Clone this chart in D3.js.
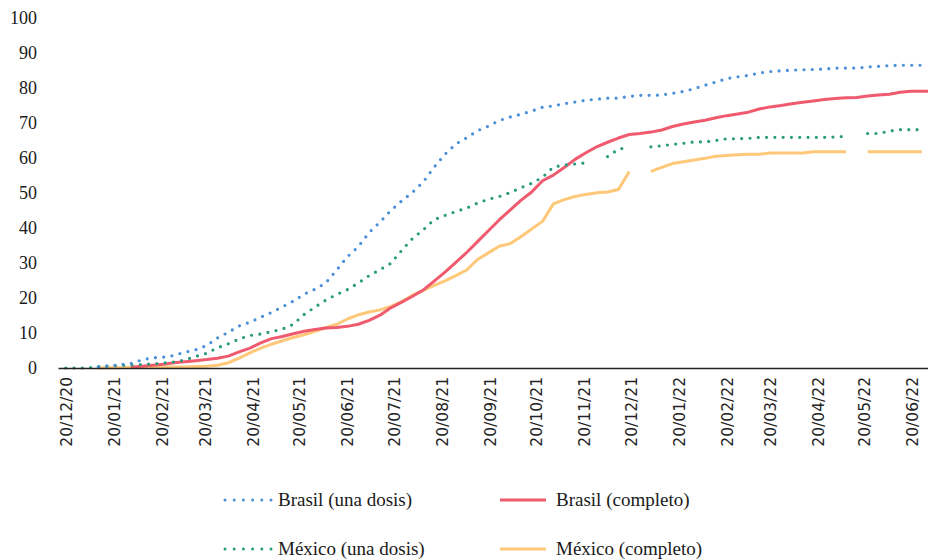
<!DOCTYPE html>
<html>
<head>
<meta charset="utf-8">
<script src="https://cdn.jsdelivr.net/npm/d3@7"></script>
<style>
  html, body { margin: 0; padding: 0; background: #fff; }
  svg { display: block; }
</style>
</head>
<body>
<svg id="chart" width="928" height="559"></svg>
<script>
// ---- DATA ----
const dates = [
  "2020-12-20","2020-12-27","2021-01-03","2021-01-10","2021-01-17","2021-01-24","2021-01-31","2021-02-07",
  "2021-02-14","2021-02-21","2021-02-28","2021-03-07","2021-03-14","2021-03-21","2021-03-28","2021-04-04",
  "2021-04-11","2021-04-18","2021-04-25","2021-05-02","2021-05-09","2021-05-16","2021-05-23","2021-05-30",
  "2021-06-06","2021-06-13","2021-06-20","2021-06-27","2021-07-04","2021-07-11","2021-07-18","2021-07-25",
  "2021-08-01","2021-08-08","2021-08-15","2021-08-22","2021-08-29","2021-09-05","2021-09-12","2021-09-19",
  "2021-09-26","2021-10-03","2021-10-10","2021-10-17","2021-10-24","2021-10-31","2021-11-07","2021-11-14",
  "2021-11-21","2021-11-28","2021-12-05","2021-12-12","2021-12-19","2021-12-26","2022-01-02","2022-01-09",
  "2022-01-16","2022-01-23","2022-01-30","2022-02-06","2022-02-13","2022-02-20","2022-02-27","2022-03-06",
  "2022-03-13","2022-03-20","2022-03-27","2022-04-03","2022-04-10","2022-04-17","2022-04-24","2022-05-01",
  "2022-05-08","2022-05-15","2022-05-22","2022-05-29","2022-06-05","2022-06-12","2022-06-19","2022-06-26",
  "2022-06-30"
];

const brasilUnaDosis = [
  null,null,null,0.3,0.6,0.9,1.3,2.3,2.9,3.1,3.6,4.5,5.2,6.4,8.6,10.2,
  12,13.1,14.5,15.9,17.5,19.1,21.1,22.5,24.3,28,31.8,34.7,38.7,41.7,45,47.7,
  50.2,53.2,57.4,61.1,64,65.8,67.8,69.1,70.7,71.7,72.5,73.4,74.5,74.9,75.5,76,
  76.5,76.8,77.1,77.1,77.6,77.9,77.9,78,78.5,79,79.8,80.8,81.7,82.7,83.2,83.6,
  84.3,84.7,84.9,85.1,85.2,85.3,85.4,85.7,85.7,85.7,86,86.2,86.4,86.5,86.5,86.5,
  86.5
];

const brasilCompleto = [
  null,null,null,null,null,null,0.2,0.5,0.8,1.1,1.5,1.8,2.1,2.4,2.8,3.4,
  4.6,5.7,7.2,8.4,9,9.8,10.5,11,11.4,11.6,11.9,12.5,13.6,15.1,17.2,18.8,
  20.5,22.3,24.8,27.4,30.2,33,36.1,39.2,42.3,45.1,47.9,50.3,53.5,55.1,57.3,59.6,
  61.5,63.2,64.5,65.7,66.7,67,67.4,68,69,69.7,70.3,70.8,71.5,72.1,72.6,73.1,
  74,74.6,75,75.5,75.9,76.3,76.7,77,77.2,77.3,77.7,78,78.2,78.8,79.1,79.1,
  79.1
];

const mexicoUnaDosis = [
  0,0,0,0.4,0.6,0.7,0.9,1,1.2,1.4,1.7,2.3,3.3,4.2,5.8,6.9,
  8.3,9.3,9.7,10.4,11.1,12.5,15.3,17.4,19.4,21,22.4,24.3,26.4,28.1,29.9,33.6,
  37,39.5,42.4,43.6,44.7,45.7,47.1,48.2,49,50.1,51.5,52.8,54.5,57.4,58,58.3,
  58.6,null,60.4,62.5,63.1,null,63.2,63.5,63.9,64.2,64.6,64.6,65,65.5,65.5,65.6,
  65.9,65.9,65.9,65.9,65.9,65.9,65.9,66,66.2,null,67,67,67.7,68.1,68.1,68.1,
  null
];

const mexicoCompleto = [
  null,null,null,0,0.1,0.1,0.2,0.2,0.3,0.3,0.3,0.3,0.4,0.5,0.8,1.5,
  2.8,4.3,5.7,6.8,7.8,8.7,9.5,10.5,11.5,12.5,14,15.2,16,16.6,17.6,19,
  20.8,22.2,23.6,24.9,26.4,28,31,32.9,34.8,35.5,37.5,39.7,41.9,46.9,48.1,49,
  49.6,50.1,50.3,51,56.1,null,56.2,57.3,58.4,58.9,59.4,59.9,60.5,60.7,60.9,61.1,
  61.1,61.4,61.4,61.4,61.4,61.8,61.8,61.8,61.8,null,61.8,61.8,61.8,61.8,61.8,61.8,
  null
];

const tickLabels = [
  "2020-12-20","2021-01-20","2021-02-20","2021-03-20","2021-04-20","2021-05-20","2021-06-20",
  "2021-07-20","2021-08-20","2021-09-20","2021-10-20","2021-11-20","2021-12-20","2022-01-20",
  "2022-02-20","2022-03-20","2022-04-20","2022-05-20","2022-06-20"
];
const yTicks = [0,10,20,30,40,50,60,70,80,90,100];

const seriesNames = ["Brasil (una dosis)","Brasil (completo)","México (una dosis)","México (completo)"];

// ---- CHART ----
const parse = d3.timeParse("%Y-%m-%d");
const fmt = d3.timeFormat("%d/%m/%y");
const svg = d3.select("#chart");

const x = d3.scaleTime()
  .domain([parse("2020-12-15"), parse("2022-06-30")])
  .range([58, 928]);
const y = d3.scaleLinear().domain([0, 100]).range([368, 18]);

const series = [
  {name: seriesNames[0], values: brasilUnaDosis, color: "#4a8fd8", dotted: true},
  {name: seriesNames[1], values: brasilCompleto, color: "#f05a6e", dotted: false},
  {name: seriesNames[2], values: mexicoUnaDosis, color: "#2a9a7c", dotted: true},
  {name: seriesNames[3], values: mexicoCompleto, color: "#fec878", dotted: false}
];

// Y axis labels (no line)
const yAxis = d3.axisLeft(y).tickValues(yTicks).tickSize(0).tickPadding(0);
const yg = svg.append("g").attr("transform", "translate(37,0)").call(yAxis);
yg.select(".domain").remove();
yg.selectAll("text")
  .attr("font-family", "'Liberation Serif', serif")
  .attr("font-size", 18)
  .attr("fill", "#1a1a1a");

// Lines (draw order: orange, red, green, blue? keep original order)
const line = d3.line()
  .defined(d => d.v != null)
  .x(d => x(d.t))
  .y(d => y(d.v));

const drawOrder = [3, 1, 2, 0];
drawOrder.forEach(i => {
  const s = series[i];
  const pts = dates.map((d, j) => ({t: parse(d), v: s.values[j]}));
  const p = svg.append("path")
    .datum(pts)
    .attr("fill", "none")
    .attr("stroke", s.color)
    .attr("d", line);
  if (s.dotted) {
    p.attr("stroke-width", 3.2)
     .attr("stroke-linecap", "round")
     .attr("stroke-dasharray", "0 8.3");
  } else {
    p.attr("stroke-width", 3)
     .attr("stroke-linejoin", "round");
  }
});

// X axis
const xAxis = d3.axisBottom(x)
  .tickValues(tickLabels.map(parse))
  .tickFormat(fmt)
  .tickSize(0)
  .tickPadding(0);
const xg = svg.append("g").attr("transform", "translate(0,368)").call(xAxis);
xg.select(".domain").attr("stroke", "#222").attr("stroke-width", 1.5);
xg.selectAll("text")
  .attr("font-family", "'DejaVu Sans', sans-serif")
  .attr("font-size", 15.5)
  .attr("fill", "#222")
  .attr("text-anchor", "end")
  .attr("transform", "rotate(-90)")
  .attr("x", -9)
  .attr("y", 0)
  .attr("dy", "0.35em");

// Legend
const legendItems = [
  {s: series[0], sx: 225, tx: 278, cy: 500},
  {s: series[1], sx: 500, tx: 556, cy: 500},
  {s: series[2], sx: 225, tx: 278, cy: 549},
  {s: series[3], sx: 500, tx: 556, cy: 549}
];
const lg = svg.append("g");
legendItems.forEach(it => {
  const l = lg.append("line")
    .attr("x1", it.sx).attr("x2", it.sx + 46)
    .attr("y1", it.cy).attr("y2", it.cy)
    .attr("stroke", it.s.color);
  if (it.s.dotted) {
    l.attr("stroke-width", 3).attr("stroke-linecap", "round").attr("stroke-dasharray", "0 9.2");
  } else {
    l.attr("stroke-width", 3);
  }
  lg.append("text")
    .attr("x", it.tx).attr("y", it.cy)
    .attr("dy", "0.33em")
    .attr("font-family", "'Liberation Serif', serif")
    .attr("font-size", 19)
    .attr("fill", "#1a1a1a")
    .text(it.s.name);
});
</script>
</body>
</html>
